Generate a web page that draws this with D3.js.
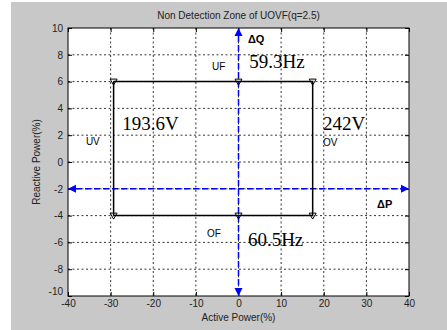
<!DOCTYPE html>
<html>
<head>
<meta charset="utf-8">
<script src="https://cdn.jsdelivr.net/npm/d3@7"></script>
<style>
  body { margin: 0; background: #fff; }
</style>
</head>
<body>
<div class="chart"></div>
<script>
// chart values
const xTicks = [-40, -30, -20, -10, 0, 10, 20, 30, 40];
const yTicks = [-10, -8, -6, -4, -2, 0, 2, 4, 6, 8, 10];
const ndzP = [-29.3, 17.4];   // active power limits of the zone
const ndzQ = [-4, 6];         // reactive power limits of the zone
const markerP = [-29.3, 0, 17.4];
const markerQ = [6, -4];
const arrowP = -2;            // horizontal blue arrow (Q level)
const arrowQ = 0;             // vertical blue arrow (P level)
const serifLabels = [
    {t: '59.3Hz', p: 2.5, q: 7.0},
    {t: '193.6V', p: -27.3, q: 2.4},
    {t: '242V', p: 19.8, q: 2.4},
    {t: '60.5Hz', p: 2.2, q: -6.3}
];
const sansLabels = [
    {t: 'UF', p: -6.2, q: 6.9},
    {t: 'UV', p: -35.8, q: 1.3},
    {t: 'OV', p: 19.8, q: 1.2},
    {t: 'OF', p: -7.4, q: -5.6}
];
const deltaLabels = [
    {t: 'ΔQ', p: 2.2, q: 8.9},
    {t: 'ΔP', p: 32.5, q: -3.4}
];

const sansFont = '"Liberation Sans", Arial, sans-serif';
const serifFont = '"Liberation Serif", "Times New Roman", serif';

const drawChart = (selector, outerWidth, outerHeight) => {
    const svg = d3.select(selector).append('svg')
        .attr('width', outerWidth)
        .attr('height', outerHeight)
        .attr('font-family', sansFont);

    // grey figure background
    svg.append('rect')
        .attr('x', 11).attr('y', 2)
        .attr('width', outerWidth - 11).attr('height', outerHeight - 2)
        .attr('fill', '#c8c8c8');

    const x = d3.scaleLinear().domain([-40, 40]).range([68, 409]);
    const y = d3.scaleLinear().domain([-10, 10]).range([296, 28]);

    svg.append('rect')
        .attr('x', x(-40)).attr('y', y(10))
        .attr('width', x(40) - x(-40)).attr('height', y(-10) - y(10))
        .attr('fill', '#fff');

    // grid
    const grid = svg.append('g')
        .attr('stroke', '#000')
        .attr('stroke-width', 0.8)
        .attr('stroke-dasharray', '2,2.5');
    grid.selectAll('.vx').data(xTicks.slice(1, -1)).join('line')
        .attr('x1', d => x(d)).attr('x2', d => x(d))
        .attr('y1', y(10)).attr('y2', y(-10));
    grid.selectAll('.hy').data(yTicks.slice(1, -1)).join('line')
        .attr('y1', d => y(d)).attr('y2', d => y(d))
        .attr('x1', x(-40)).attr('x2', x(40));

    // axes (ticks inward, box)
    const tick = 4;
    const fmt = d => String(d);
    svg.append('g')
        .attr('transform', 'translate(0,' + y(-10) + ')')
        .call(d3.axisBottom(x).tickValues(xTicks).tickFormat(fmt)
            .tickSizeInner(-tick).tickSizeOuter(0).tickPadding(4))
        .call(g => g.select('.domain').remove());
    svg.append('g')
        .attr('class', 'yaxis')
        .attr('transform', 'translate(' + x(-40) + ',0)')
        .call(d3.axisLeft(y).tickValues(yTicks).tickFormat(fmt)
            .tickSizeInner(-tick).tickSizeOuter(0).tickPadding(5))
        .call(g => g.select('.domain').remove());
    svg.append('g')
        .attr('transform', 'translate(0,' + y(10) + ')')
        .call(d3.axisTop(x).tickValues(xTicks).tickSizeInner(-tick).tickSizeOuter(0).tickFormat(''))
        .call(g => g.select('.domain').remove());
    svg.append('g')
        .attr('transform', 'translate(' + x(40) + ',0)')
        .call(d3.axisRight(y).tickValues(yTicks).tickSizeInner(-tick).tickSizeOuter(0).tickFormat(''))
        .call(g => g.select('.domain').remove());
    svg.selectAll('.tick text')
        .attr('font-size', 10)
        .attr('font-family', sansFont)
        .attr('fill', '#222');
    svg.selectAll('.tick line').attr('stroke', '#000');
    // lowest y label sits a little higher, as in the original
    svg.select('.yaxis').selectAll('.tick text')
        .filter(d => d === yTicks[0])
        .attr('dy', '-0.15em');

    svg.append('rect')
        .attr('x', x(-40)).attr('y', y(10))
        .attr('width', x(40) - x(-40)).attr('height', y(-10) - y(10))
        .attr('fill', 'none').attr('stroke', '#000').attr('stroke-width', 1);

    // blue arrows
    const blue = '#0000ff';
    const ah = 8, aw = 4;
    svg.append('line')
        .attr('x1', x(-40) + ah).attr('x2', x(40) - ah)
        .attr('y1', y(arrowP)).attr('y2', y(arrowP))
        .attr('stroke', blue).attr('stroke-width', 1.5)
        .attr('stroke-dasharray', '6,3');
    svg.append('line')
        .attr('x1', x(arrowQ)).attr('x2', x(arrowQ))
        .attr('y1', y(10) + ah).attr('y2', y(-10) - ah)
        .attr('stroke', blue).attr('stroke-width', 1.5)
        .attr('stroke-dasharray', '6,3');
    const heads = [
        [[x(-40), y(arrowP)], [x(-40) + ah, y(arrowP) - aw], [x(-40) + ah, y(arrowP) + aw]],
        [[x(40), y(arrowP)], [x(40) - ah, y(arrowP) - aw], [x(40) - ah, y(arrowP) + aw]],
        [[x(arrowQ), y(10)], [x(arrowQ) - aw, y(10) + ah], [x(arrowQ) + aw, y(10) + ah]],
        [[x(arrowQ), y(-10)], [x(arrowQ) - aw, y(-10) - ah], [x(arrowQ) + aw, y(-10) - ah]]
    ];
    svg.selectAll('.head').data(heads).join('path')
        .attr('d', d => d3.line()(d) + 'Z')
        .attr('fill', blue);

    // non detection zone rectangle
    const zone = [[ndzP[0], ndzQ[1]], [ndzP[1], ndzQ[1]], [ndzP[1], ndzQ[0]], [ndzP[0], ndzQ[0]], [ndzP[0], ndzQ[1]]];
    svg.append('path')
        .datum(zone)
        .attr('fill', 'none')
        .attr('stroke', '#000')
        .attr('stroke-width', 1.5)
        .attr('d', d3.line().x(d => x(d[0])).y(d => y(d[1])));

    const markers = [];
    markerQ.forEach(q => markerP.forEach(p => markers.push([p, q])));
    svg.selectAll('.mk').data(markers).join('path')
        .attr('transform', d => 'translate(' + x(d[0]) + ',' + y(d[1]) + ')')
        .attr('d', 'M-3.5,-2.5L3.5,-2.5L0,3.5Z')
        .attr('fill', 'none')
        .attr('stroke', '#000')
        .attr('stroke-width', 1);

    // annotations
    svg.selectAll('.serif').data(serifLabels).join('text')
        .attr('x', d => x(d.p)).attr('y', d => y(d.q))
        .attr('font-family', serifFont)
        .attr('font-size', 19)
        .attr('fill', '#000')
        .text(d => d.t);
    svg.selectAll('.sans').data(sansLabels).join('text')
        .attr('x', d => x(d.p)).attr('y', d => y(d.q))
        .attr('font-size', 10)
        .attr('fill', '#000')
        .text(d => d.t);
    svg.selectAll('.delta').data(deltaLabels).join('text')
        .attr('x', d => x(d.p)).attr('y', d => y(d.q))
        .attr('font-size', 11)
        .attr('font-weight', 'bold')
        .attr('fill', '#000')
        .text(d => d.t);

    // titles
    svg.append('text')
        .attr('x', x(0)).attr('y', 19)
        .attr('text-anchor', 'middle')
        .attr('font-size', 10)
        .attr('fill', '#222')
        .text('Non Detection Zone of UOVF(q=2.5)');
    svg.append('text')
        .attr('x', x(0)).attr('y', 321)
        .attr('text-anchor', 'middle')
        .attr('font-size', 10)
        .attr('fill', '#222')
        .text('Active Power(%)');
    svg.append('text')
        .attr('transform', 'translate(40,' + y(0) + ') rotate(-90)')
        .attr('text-anchor', 'middle')
        .attr('font-size', 10)
        .attr('fill', '#222')
        .text('Reactive Power(%)');
};

drawChart('.chart', 447, 330);
</script>
</body>
</html>
